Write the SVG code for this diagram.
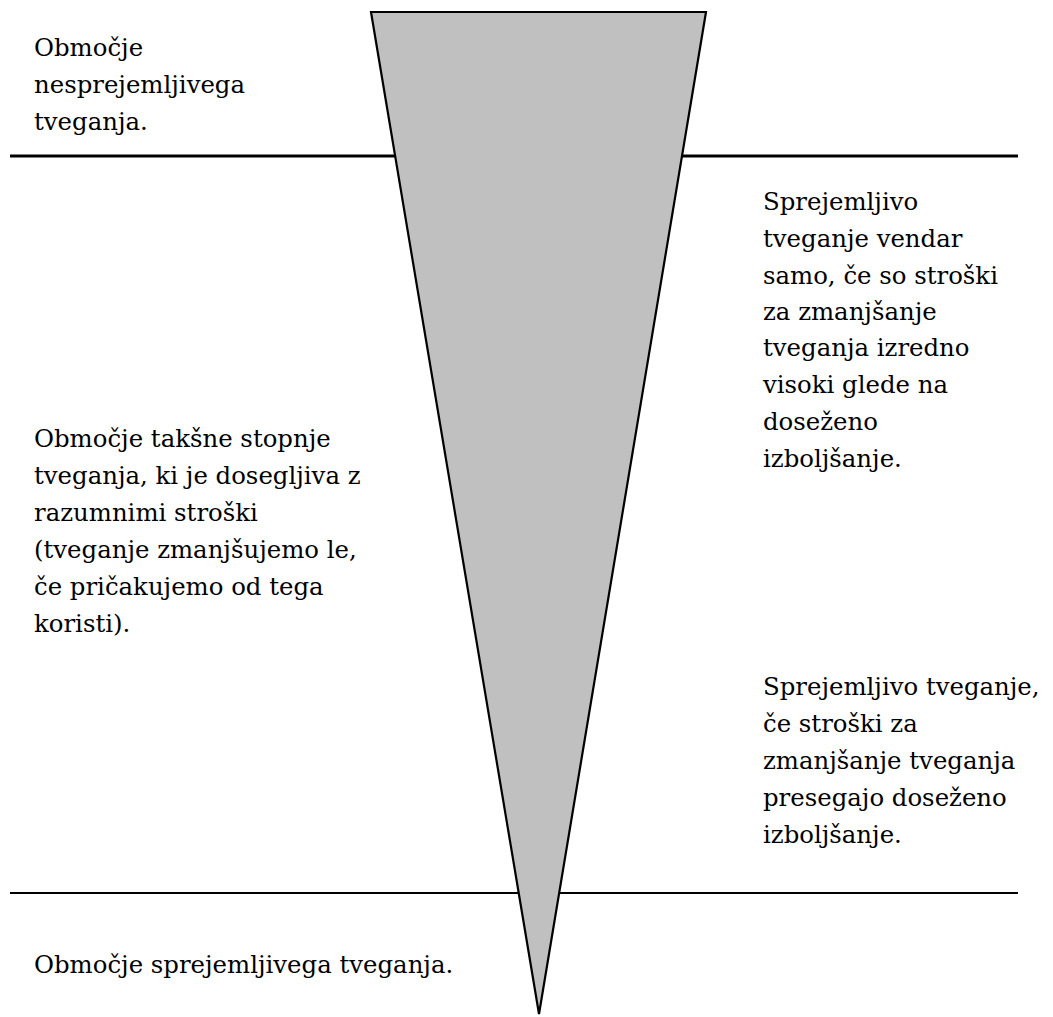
<svg xmlns="http://www.w3.org/2000/svg" width="1053" height="1017" viewBox="0 0 1053 1017">
<style>
.t{font-family:"DejaVu Serif","Liberation Serif",serif;font-size:24.4px;fill:#000}
.tri{fill:#c0c0c0;stroke:#000;stroke-width:2.2;stroke-linejoin:miter}
</style>
<rect width="1053" height="1017" fill="#fff"/>
<g id="connectors">
<line x1="10" y1="156" x2="1018" y2="156" stroke="#000" stroke-width="3.2"/>
<line x1="10" y1="893" x2="1018" y2="893" stroke="#000" stroke-width="2"/>
</g>
<g id="triangle">
<polygon class="tri" points="371,12 706,12 539,1014"/>
</g>
<g id="unacceptable" class="t">
<text x="34" y="56">Območje</text>
<text x="34" y="93">nesprejemljivega</text>
<text x="34" y="130">tveganja.</text>
</g>
<g id="alarp" class="t">
<text x="34" y="447">Območje takšne stopnje</text>
<text x="34" y="484">tveganja, ki je dosegljiva z</text>
<text x="34" y="521">razumnimi stroški</text>
<text x="34" y="558">(tveganje zmanjšujemo le,</text>
<text x="34" y="595">če pričakujemo od tega</text>
<text x="34" y="632">koristi).</text>
</g>
<g id="acceptable" class="t">
<text x="34" y="973">Območje sprejemljivega tveganja.</text>
</g>
<g id="right-top" class="t">
<text x="763" y="210">Sprejemljivo</text>
<text x="763" y="247">tveganje vendar</text>
<text x="763" y="284">samo, če so stroški</text>
<text x="763" y="320">za zmanjšanje</text>
<text x="763" y="356">tveganja izredno</text>
<text x="763" y="393">visoki glede na</text>
<text x="763" y="430">doseženo</text>
<text x="763" y="467">izboljšanje.</text>
</g>
<g id="right-bottom" class="t">
<text x="763" y="695">Sprejemljivo tveganje,</text>
<text x="763" y="732">če stroški za</text>
<text x="763" y="769">zmanjšanje tveganja</text>
<text x="763" y="806">presegajo doseženo</text>
<text x="763" y="843">izboljšanje.</text>
</g>
</svg>
